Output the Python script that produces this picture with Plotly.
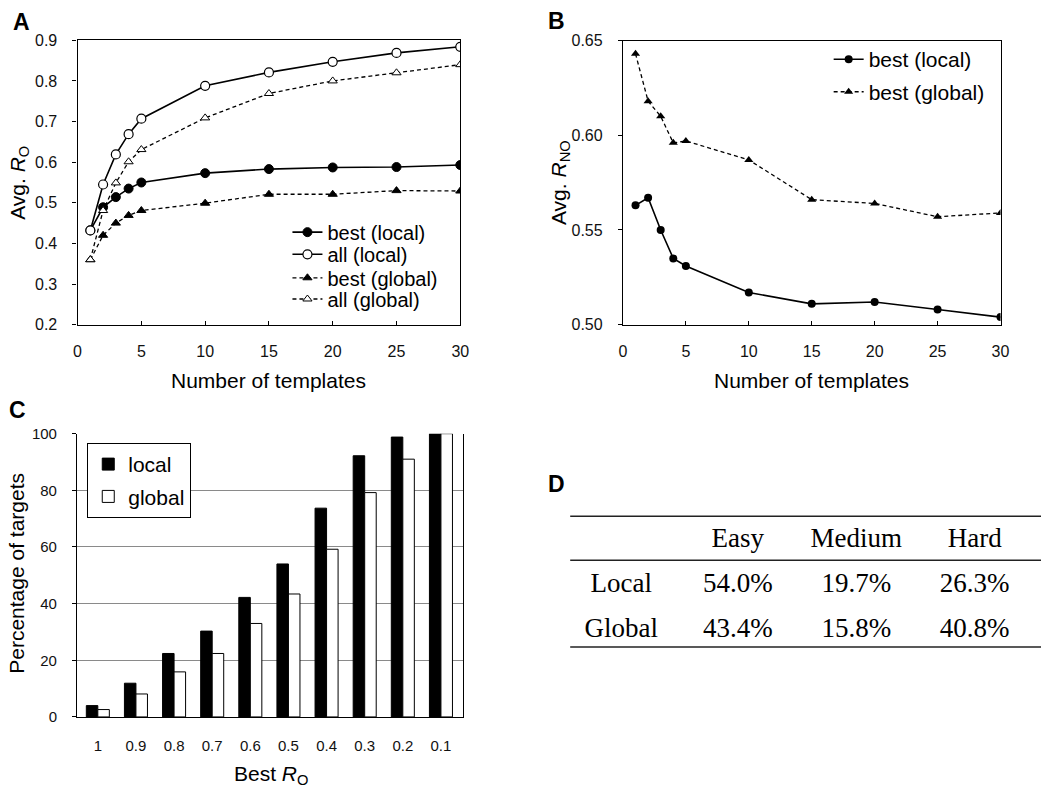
import plotly.graph_objects as go

W, H = 1050, 796

# ---------- data ----------
templates = [1, 2, 3, 4, 5, 10, 15, 20, 25, 30]
a_best_local = [0.432, 0.489, 0.514, 0.535, 0.550, 0.573, 0.583, 0.587, 0.588, 0.593]
a_all_local = [0.432, 0.545, 0.619, 0.669, 0.707, 0.788, 0.821, 0.847, 0.869, 0.884]
a_best_global = [0.360, 0.420, 0.450, 0.469, 0.481, 0.499, 0.521, 0.521, 0.530, 0.529]
a_all_global = [0.360, 0.481, 0.549, 0.601, 0.631, 0.709, 0.769, 0.800, 0.820, 0.840]

b_best_local = [0.563, 0.567, 0.550, 0.535, 0.531, 0.517, 0.511, 0.512, 0.508, 0.504]
b_best_global = [0.643, 0.618, 0.610, 0.596, 0.597, 0.587, 0.566, 0.564, 0.557, 0.559]

c_categories = ["1", "0.9", "0.8", "0.7", "0.6", "0.5", "0.4", "0.3", "0.2", "0.1"]
c_local = [4.0, 11.9, 22.4, 30.3, 42.2, 54.0, 73.7, 92.2, 98.8, 100.0]
c_global = [2.6, 8.1, 15.9, 22.4, 33.0, 43.4, 59.2, 79.2, 91.0, 100.0]

d_header = ["", "Easy", "Medium", "Hard"]
d_rows = ["Local", "Global"]
d_easy = ["54.0%", "43.4%"]
d_medium = ["19.7%", "15.8%"]
d_hard = ["26.3%", "40.8%"]

SANS = "Liberation Sans, Arial, sans-serif"
SERIF = "Liberation Serif, Times New Roman, serif"


def PX(x):
    return x / W


def PY(y):
    return 1 - y / H


def dom_x(x0, x1):
    return [PX(x0), PX(x1)]


def dom_y(top, bottom):
    return [PY(bottom), PY(top)]


fig = go.Figure()

solid = dict(color="black", width=1.6)
dashed = dict(color="black", width=1.3, dash="4px,3px")

# ---------- Panel A ----------
fig.add_trace(go.Scatter(x=templates, y=a_best_local, name="best (local)", mode="lines+markers", line=solid,
                         marker=dict(symbol="circle", size=9, color="black", line=dict(color="black", width=1)),
                         xaxis="x", yaxis="y", legend="legend"))
fig.add_trace(go.Scatter(x=templates, y=a_all_local, name="all (local)", mode="lines+markers", line=solid,
                         marker=dict(symbol="circle", size=9, color="white", line=dict(color="black", width=1.2)),
                         xaxis="x", yaxis="y", legend="legend4"))
fig.add_trace(go.Scatter(x=templates, y=a_best_global, name="best (global)", mode="lines+markers", line=dashed,
                         marker=dict(symbol="triangle-up", size=8, color="black", line=dict(color="black", width=1)),
                         xaxis="x", yaxis="y", legend="legend5"))
fig.add_trace(go.Scatter(x=templates, y=a_all_global, name="all (global)", mode="lines+markers", line=dashed,
                         marker=dict(symbol="triangle-up", size=8, color="white", line=dict(color="black", width=1)),
                         xaxis="x", yaxis="y", legend="legend6"))

# ---------- Panel B ----------
fig.add_trace(go.Scatter(x=templates, y=b_best_local, name="best (local)", mode="lines+markers", line=solid,
                         marker=dict(symbol="circle", size=8, color="black"),
                         xaxis="x2", yaxis="y2", legend="legend2"))
fig.add_trace(go.Scatter(x=templates, y=b_best_global, name="best (global)", mode="lines+markers", line=dashed,
                         marker=dict(symbol="triangle-up", size=8, color="black"),
                         xaxis="x2", yaxis="y2", legend="legend7"))

# ---------- Panel C ----------
fig.add_trace(go.Bar(x=c_categories, y=c_local, name="local", legendgroup="loc",
                     marker=dict(color="black", line=dict(color="black", width=1)),
                     xaxis="x3", yaxis="y3", legend="legend3"))
fig.add_trace(go.Bar(x=c_categories, y=c_global, name="global", legendgroup="glob",
                     marker=dict(color="white", line=dict(color="black", width=1)),
                     xaxis="x3", yaxis="y3", legend="legend3"))

# ---------- Panel D (table) ----------
fig.add_trace(go.Table(
    domain=dict(x=dom_x(573, 1049), y=dom_y(522, 656)),
    columnwidth=[104, 132, 108, 132],
    header=dict(values=d_header, height=44.6, align="center",
                font=dict(family=SERIF, size=27, color="black"),
                fill=dict(color="white"), line=dict(color="white", width=0)),
    cells=dict(values=[d_rows, d_easy, d_medium, d_hard], height=44.6, align="center",
               font=dict(family=SERIF, size=27, color="black"),
               fill=dict(color="white"), line=dict(color="white", width=0)),
))

tickfont = dict(family=SANS, size=16, color="#111")
ctickfont = dict(family=SANS, size=15, color="#111")
common_x = dict(showgrid=False, zeroline=False, showline=True, linecolor="black", linewidth=1.2,
                mirror=True, ticks="inside", ticklen=4, tickcolor="black", tickfont=tickfont,
                ticklabelstandoff=12)
common_y = dict(showgrid=False, zeroline=False, showline=True, linecolor="black", linewidth=1.2,
                mirror=True, ticks="outside", ticklen=4, tickcolor="black", tickfont=tickfont,
                ticklabelstandoff=12)


def leg(x, y, size, anchor="middle", **kw):
    d = dict(x=PX(x), y=PY(y), xanchor="left", yanchor=anchor,
             font=dict(family=SANS, size=size, color="black"), bgcolor="rgba(0,0,0,0)",
             borderwidth=0, itemwidth=30, tracegroupgap=0)
    d.update(kw)
    return d


layout = dict(
    width=W, height=H, margin=dict(l=0, r=0, t=0, b=0),
    paper_bgcolor="white", plot_bgcolor="white",
    font=dict(family=SANS, color="black"),
    barmode="group", bargap=0.396, bargroupgap=0.0,
    hovermode=False,
    xaxis=dict(domain=dom_x(74.5, 462), range=[0, 30], tickvals=[0, 5, 10, 15, 20, 25, 30], anchor="y", **common_x),
    yaxis=dict(domain=dom_y(32, 323), range=[0.2, 0.9], dtick=0.1, tickformat=".1f", anchor="x", **common_y),
    xaxis2=dict(domain=dom_x(626.7, 1009), range=[0, 30], tickvals=[0, 5, 10, 15, 20, 25, 30], anchor="y2", **common_x),
    yaxis2=dict(domain=dom_y(32.3, 323), range=[0.5, 0.65], dtick=0.05, tickformat=".2f", anchor="x2", **common_y),
    xaxis3=dict(domain=dom_x(74, 465), range=[-0.544, 9.585], type="category", anchor="y3",
                showgrid=False, zeroline=False, showline=True, linecolor="black", linewidth=1.2,
                mirror=False, ticks="", tickfont=ctickfont, ticklabelstandoff=15),
    yaxis3=dict(domain=dom_y(434.5, 724.3), range=[0, 100], dtick=20, anchor="x3",
                showgrid=True, gridcolor="#8a8a8a", gridwidth=1, zeroline=False,
                showline=True, linecolor="black", linewidth=1.2, mirror=True,
                ticks="outside", ticklen=4, tickcolor="black", tickfont=ctickfont, ticklabelstandoff=12),
    legend=leg(287, 228.3, 20),
    legend4=leg(287, 251, 20),
    legend5=leg(287, 275, 20),
    legend6=leg(287, 296.7, 20),
    legend2=leg(835, 51.7, 21),
    legend7=leg(835, 85, 21),
    legend3=leg(84.3, 444, 21, anchor="top", bgcolor="white", bordercolor="black",
                borderwidth=1, tracegroupgap=2),
    showlegend=True,
)
fig.update_layout(**layout)

# table rules
for ypx in [519, 564, 652.7]:
    fig.add_shape(type="line", xref="paper", yref="paper", x0=PX(573.3), x1=PX(1050),
                  y0=PY(ypx), y1=PY(ypx), line=dict(color="#222", width=1.6))

# panel labels
for txt, x, y in [("A", 17.5, 13), ("B", 559, 12), ("C", 14, 410), ("D", 559, 486.5)]:
    fig.add_annotation(text="<b>%s</b>" % txt, x=PX(x), y=PY(y), xref="paper", yref="paper",
                       showarrow=False, xanchor="center", yanchor="middle",
                       font=dict(family=SANS, size=23, color="black"))

# axis titles
titles = [
    ("Number of templates", 268, 380, 0),
    ("Avg. <i>R</i><sub>O</sub>", 15, 178, -90),
    ("Number of templates", 818, 380, 0),
    ("Avg. <i>R</i><sub>NO</sub>", 563, 178, -90),
    ("Best <i>R</i><sub>O</sub>", 270, 784, 0),
    ("Percentage of targets", 13, 577, -90),
]
for txt, x, y, ang in titles:
    fig.add_annotation(text=txt, x=PX(x), y=PY(y), xref="paper", yref="paper",
                       showarrow=False, xanchor="center", yanchor="middle", textangle=ang,
                       font=dict(family=SANS, size=21, color="black"))

# the page body otherwise adds an 8px margin around the figure
fig.write_html("out.html", config={"displayModeBar": False},
               post_script="document.body.style.margin='0px';")
